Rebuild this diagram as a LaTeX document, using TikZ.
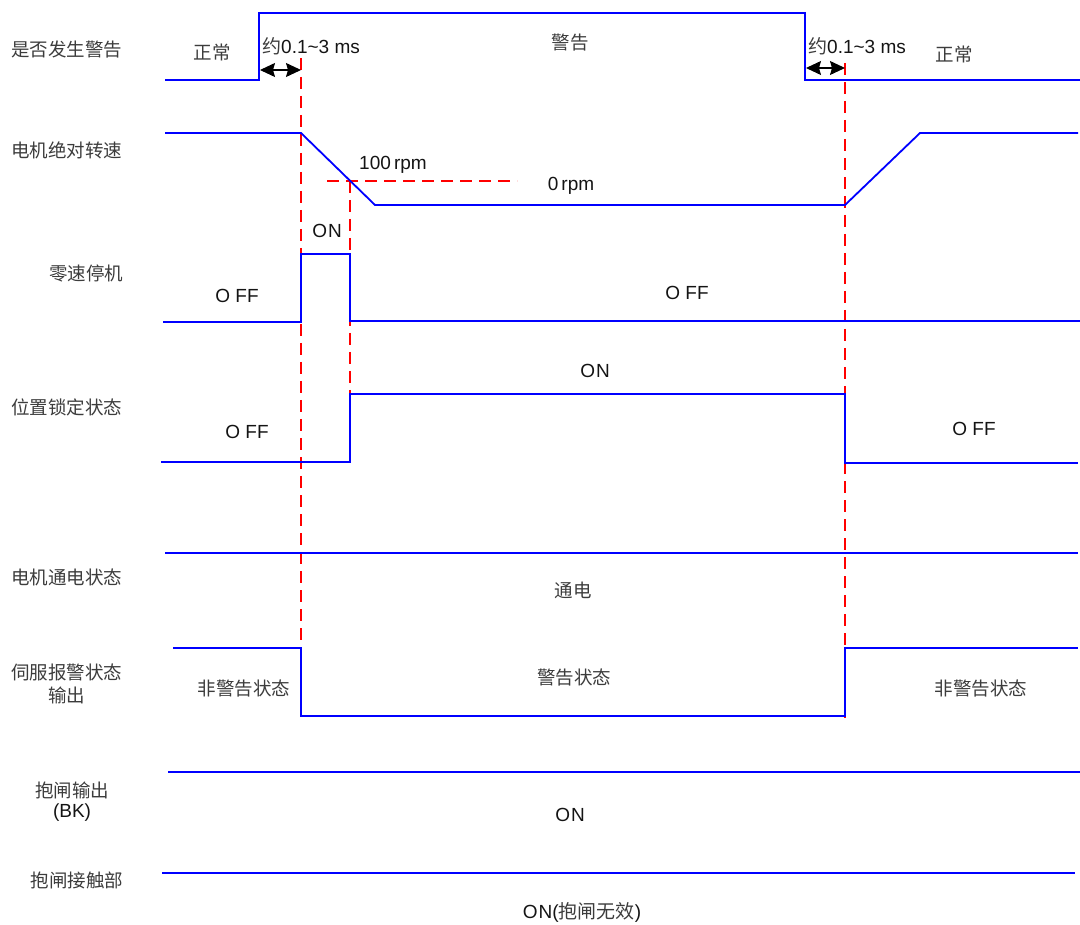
\documentclass[tikz,border=0pt]{standalone}
\usepackage{fontspec}
\setmainfont{Liberation Sans}
\newfontfamily\cjk{Noto Sans CJK SC}
\usetikzlibrary{arrows.meta}
\definecolor{wave}{RGB}{0,0,255}
\definecolor{guidered}{RGB}{255,0,0}
\definecolor{cjkgrey}{RGB}{60,60,60}
\definecolor{latin}{RGB}{20,20,20}
\tikzset{
  wavel/.style={draw=wave, line width=1.8pt, line join=miter},
  guide/.style={draw=guidered, line width=1.3pt, dash pattern=on 12pt off 7pt},
  zh/.style={font=\cjk\fontsize{18.5}{22}\selectfont, text=cjkgrey, inner sep=0pt},
  lat/.style={font=\fontsize{19}{22}\selectfont, text=latin, inner sep=0pt},
  dim/.style={draw=black, line width=1.1pt, {Stealth[length=15pt,width=14pt,inset=2pt]}-{Stealth[length=15pt,width=14pt,inset=2pt]}},
}
\begin{document}
\begin{tikzpicture}[x=1pt,y=-1pt]
\useasboundingbox (0,0) rectangle (1080,925);

% left labels
\node[zh] (l1) at (67,50) {是否发生警告};
\node[zh] (l2) at (67,150) {电机绝对转速};
\node[zh] (l3) at (86,273) {零速停机};
\node[zh] (l4) at (67,407) {位置锁定状态};
\node[zh] (l5) at (67,577) {电机通电状态};
\node[zh] (l6a) at (67,672) {伺服报警状态};
\node[zh] (l6b) at (67,695) {输出};
\node[zh] (l7a) at (72,790) {抱闸输出};
\node[lat] (l7b) at (72,813) {(BK)};
\node[zh] (l8) at (77,880) {抱闸接触部};

% guide lines
\coordinate (g1t) at (301,58);  \coordinate (g1b) at (301,718);
\coordinate (g2t) at (350,181); \coordinate (g2b) at (350,462);
\coordinate (g3t) at (845,63);  \coordinate (g3b) at (845,718);
\coordinate (h1) at (327,181);  \coordinate (h2) at (517,181);
\draw[guide] (g1t) -- (g1b);
\draw[guide] (g2t) -- (g2b);
\draw[guide] (g3t) -- (g3b);
\draw[guide] (h1) -- (h2);

% row 1: warning
\draw[wavel] (165,80) -- (259,80) -- (259,13) -- (805,13) -- (805,80) -- (1080,80);
\coordinate (a1) at (260,70); \coordinate (a2) at (301,70);
\coordinate (a3) at (806,68); \coordinate (a4) at (845,68);
\draw[dim] (a1) -- (a2);
\draw[dim] (a3) -- (a4);
\node[zh] (t11) at (212,52) {正常};
\node[lat,anchor=west] (t12) at (262,46) {{\cjk\color{cjkgrey}约}0.1\textasciitilde3 ms};
\node[zh] (t13) at (570,43) {警告};
\node[lat,anchor=west] (t14) at (808,46) {{\cjk\color{cjkgrey}约}0.1\textasciitilde3 ms};
\node[zh] (t15) at (954,54) {正常};

% row 2: speed
\draw[wavel] (165,133) -- (301,133) -- (375,205) -- (845,205) -- (920,133) -- (1078,133);
\node[lat] (t21) at (393,165) {100\,rpm};
\node[lat] (t22) at (571,186) {0\,rpm};

% row 3: zero speed stop
\draw[wavel] (163,322) -- (301,322) -- (301,254) -- (350,254) -- (350,321) -- (1080,321);
\node[lat] (t31) at (327,231) {O\kern1pt N};
\node[lat] (t32) at (237,296) {O FF};
\node[lat] (t33) at (687,293) {O FF};

% row 4: position lock
\draw[wavel] (161,462) -- (350,462) -- (350,394) -- (845,394) -- (845,463) -- (1078,463);
\node[lat] (t41) at (595,371) {O\kern1pt N};
\node[lat] (t42) at (247,432) {O FF};
\node[lat] (t43) at (974,429) {O FF};

% row 5: power
\draw[wavel] (165,553) -- (1078,553);
\node[zh] (t51) at (573,590) {通电};

% row 6: alarm output
\draw[wavel] (173,648) -- (301,648) -- (301,716) -- (845,716) -- (845,648) -- (1078,648);
\node[zh] (t61) at (244,689) {非警告状态};
\node[zh] (t62) at (574,678) {警告状态};
\node[zh] (t63) at (981,689) {非警告状态};

% row 7: brake output
\draw[wavel] (168,772) -- (1080,772);
\node[lat] (t71) at (570,815) {O\kern1pt N};

% row 8: brake contact
\draw[wavel] (162,873) -- (1075,873);
\node[lat] (t81) at (582,912) {O\kern1pt N({\cjk\color{cjkgrey}抱闸无效})};
\end{tikzpicture}
\end{document}
